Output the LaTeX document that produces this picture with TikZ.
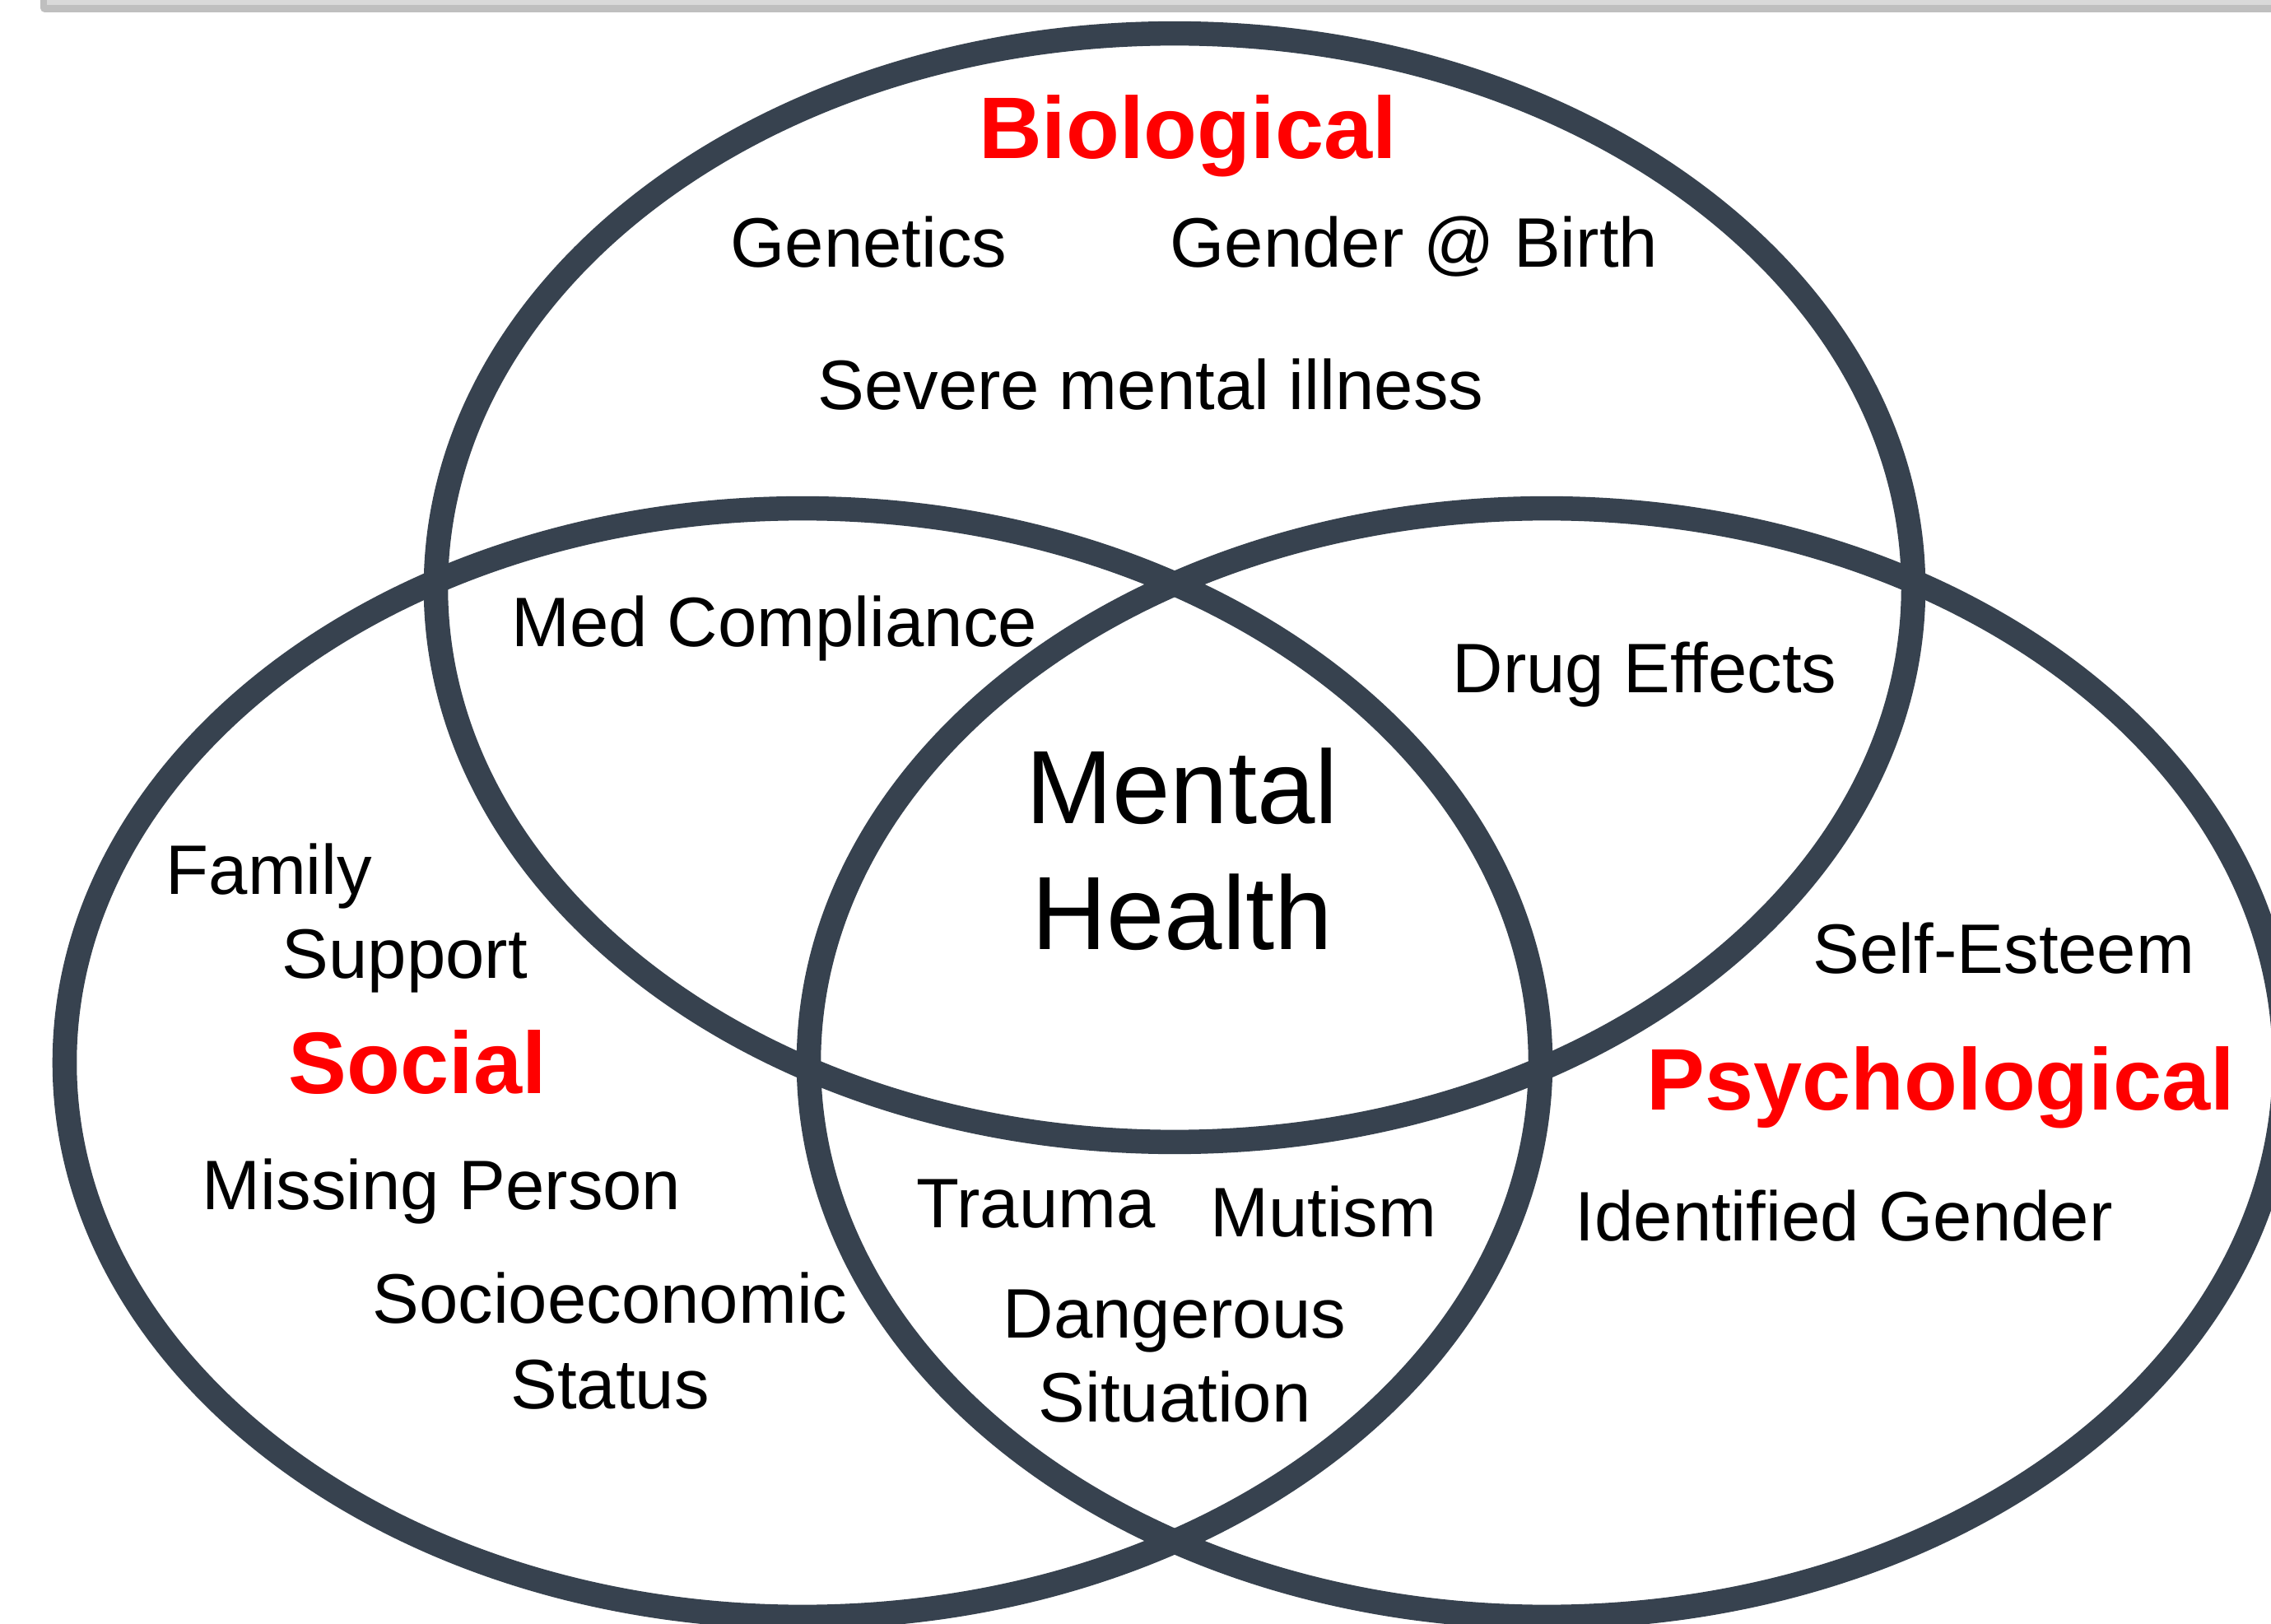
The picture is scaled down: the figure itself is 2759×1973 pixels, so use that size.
\documentclass[tikz,border=0pt]{standalone}
\usepackage{fontspec}
\setmainfont{Liberation Sans}
\definecolor{ringc}{RGB}{55,66,79}
\definecolor{barDark}{RGB}{191,191,191}
\definecolor{barLight}{RGB}{217,217,217}
\tikzset{
  lbl/.style={inner sep=0pt, anchor=base west, font=\fontsize{24.2}{29}\selectfont},
  lblc/.style={inner sep=0pt, anchor=base, font=\fontsize{24.2}{29}\selectfont},
  cat/.style={inner sep=0pt, anchor=base west, text=red, font=\fontsize{30.2}{36}\bfseries\selectfont},
  big/.style={inner sep=0pt, anchor=base, font=\fontsize{36}{43}\selectfont},
  ring/.style={draw=ringc, line width=8.4pt}
}
\begin{document}
\begin{tikzpicture}[x=0.01cm, y=-0.01cm]
\useasboundingbox (0,0) rectangle (2759,1973);
\clip (0,0) rectangle (2759,1973);
\fill[white] (0,0) rectangle (2759,1973);
% top frame edge
\fill[barDark, rounded corners=1.5pt] (49,-40) rectangle (2820,15);
\fill[barLight] (57,-40) rectangle (2820,6);
% circles
\draw[ring] (1427,714) ellipse [x radius=8.97cm, y radius=6.73cm];
\draw[ring] (975,1291) ellipse [x radius=8.96cm, y radius=6.73cm];
\draw[ring] (1879,1291) ellipse [x radius=8.96cm, y radius=6.73cm];
% category labels
\node[cat, anchor=base] (bio) at (1443,193) {Biological};
\node[cat] (soc) at (350,1328) {Social};
\node[cat] (psy) at (2000,1348) {Psychological};
% biological
\node[lbl] (gen) at (887,325) {Genetics};
\node[lbl] (gab) at (1421,325) {Gender @ Birth};
\node[lbl] (smi) at (993,498) {Severe mental illness};
% overlaps
\node[lbl] (med) at (621,786) {Med Compliance};
\node[lbl] (drug) at (1764,841) {Drug Effects};
\node[big] (mh1) at (1436,1001) {Mental};
\node[big] (mh2) at (1436,1153) {Health};
% social
\node[lbl] (fam1) at (201,1086) {Family};
\node[lbl] (fam2) at (342,1188) {Support};
\node[lbl] (miss) at (245,1469) {Missing Person};
\node[lblc] (ses1) at (741,1607) {Socioeconomic};
\node[lblc] (ses2) at (741,1711) {Status};
% social/psych overlap
\node[lbl] (trau) at (1113,1491) {Trauma};
\node[lbl] (mut) at (1470,1502) {Mutism};
\node[lblc] (dan1) at (1427,1625) {Dangerous};
\node[lblc] (dan2) at (1427,1727) {Situation};
% psychological
\node[lbl] (self) at (2202,1182) {Self-Esteem};
\node[lbl] (idg) at (1913,1507) {Identified Gender};
\end{tikzpicture}
\end{document}
